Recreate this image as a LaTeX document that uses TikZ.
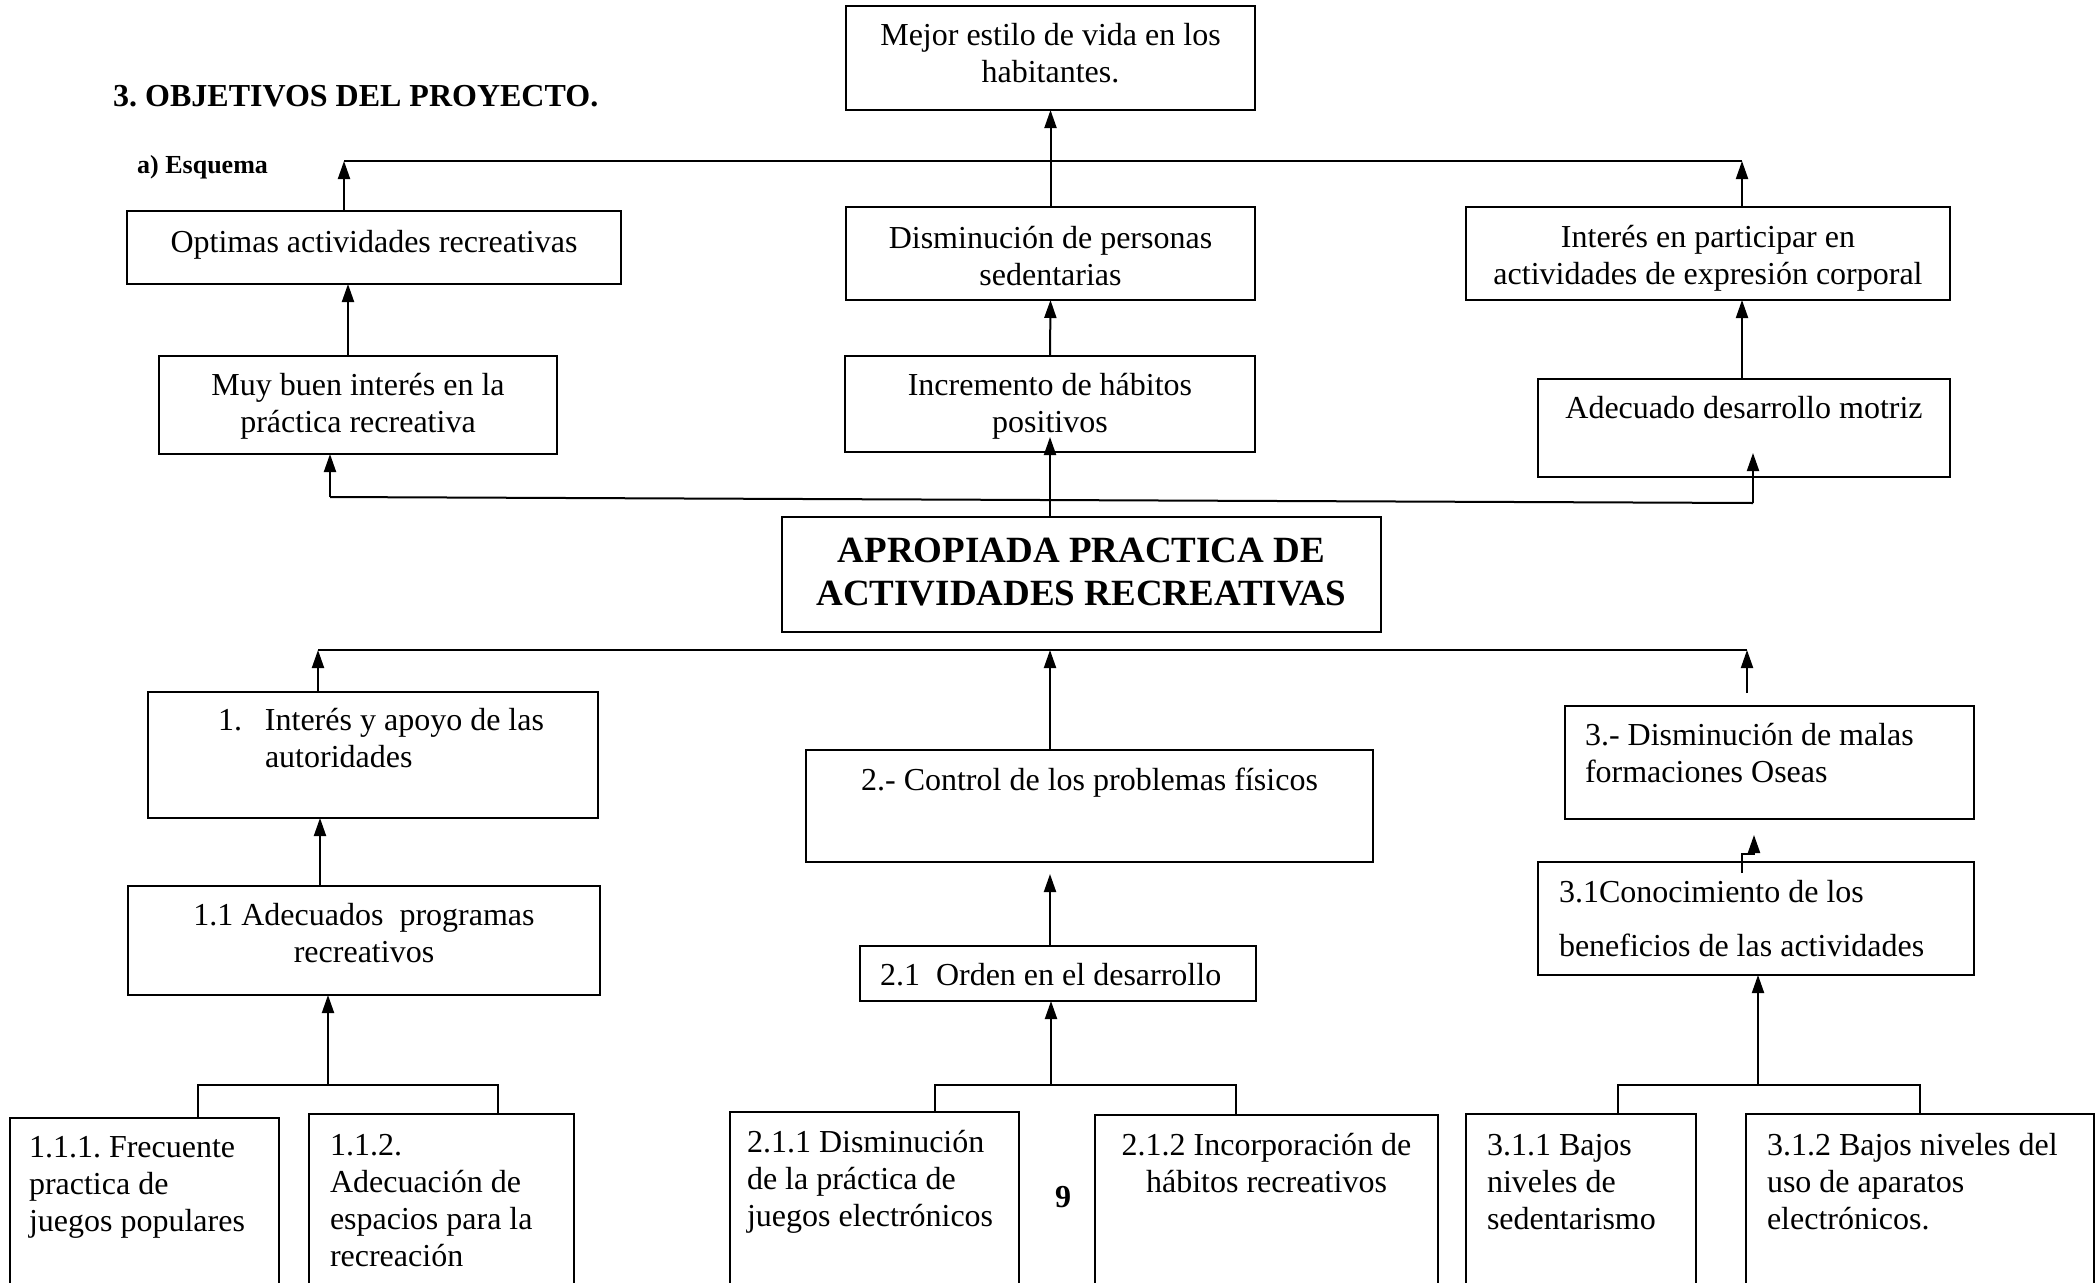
\documentclass[tikz,border=0pt]{standalone}
\usepackage{fontspec}
\setmainfont{Liberation Serif}
\usetikzlibrary{arrows.meta}
\newcommand{\cajafont}{\fontsize{32pt}{37pt}\selectfont}
\frenchspacing

\begin{document}
\begin{tikzpicture}[x=1pt,y=-1pt,
    box/.style={draw, line width=2.4pt, anchor=north west, inner ysep=0pt, inner xsep=10pt,
      outer sep=0pt, align=flush center, font=\cajafont},
    lbox/.style={box, align=flush left, inner xsep=#1},
    dims/.style n args={3}{text width=#1pt, text height=#2pt, text depth=#3pt},
    conn/.style={line width=2pt},
    arr/.style={conn, -{Triangle[length=18pt,width=12pt]}}]
  \useasboundingbox (0,0) rectangle (2098,1282);
  \clip (0,0) rectangle (2098,1282);

  \node[anchor=base west, inner sep=0pt, font=\bfseries\cajafont] (titulo) at (113,106)
    {3. OBJETIVOS DEL PROYECTO.};
  \node[anchor=base west, inner sep=0pt, font=\bfseries\fontsize{26pt}{30pt}\selectfont] (esquema)
    at (137,173) {a) Esquema};

  % fines
  \node[box, dims={389}{39}{65}] (mejor) at (846,6) {Mejor estilo de vida en los\\habitantes.};
  \node[box, dims={474}{41}{32}] (opt) at (127,211) {Optimas actividades recreativas};
  \node[box, dims={389}{41}{52}] (dism) at (846,207) {Disminución de personas\\sedentarias};
  \node[box, dims={464}{40}{53}] (intp) at (1466,207) {Interés en participar en\\actividades de expresión corporal};
  \node[box, dims={378}{39}{59}] (muy) at (159,356) {Muy buen interés en la\\práctica recreativa};
  \node[box, dims={390}{39}{57}] (inc) at (845,356) {Incremento de hábitos\\positivos};
  \node[box, dims={392}{39}{59}] (adec) at (1538,379) {Adecuado desarrollo motriz};

  % proposito
  \node[box, dims={579}{45}{70}, font=\bfseries\fontsize{37pt}{43pt}\selectfont] (aprop) at (782,517)
    {APROPIADA PRACTICA DE\\ACTIVIDADES RECREATIVAS};

  % componentes
  \node[lbox=10pt, dims={430}{38}{88}] (int1) at (148,692)
    {\hspace*{60pt}\makebox[47pt][l]{1.}Interés y apoyo de las\\\hspace*{107pt}autoridades};
  \node[box, dims={547}{40}{72}] (ctrl) at (806,750) {2.- Control de los problemas físicos};
  \node[lbox=20pt, dims={369}{39}{74}] (mal3) at (1565,706) {3.- Disminución de malas\\formaciones Oseas};

  % actividades
  \node[box, dims={452}{39}{70}] (prog) at (128,886) {1.1 Adecuados\ \ programas\\recreativos};
  \node[lbox=20pt, dims={356}{39}{16}] (ord) at (860,946) {2.1\ \ Orden en el desarrollo};
  \node[lbox=21pt, dims={394}{40}{73}] (c31) at (1538,862)
    {3.1Conocimiento de los\\[17pt]beneficios de las actividades};

  \node[lbox=19pt, dims={231}{39}{150}] (f111) at (10,1118) {1.1.1. Frecuente\\practica de\\juegos populares};
  \node[lbox=21pt, dims={223}{41}{150}] (f112) at (309,1114) {1.1.2.\\Adecuación de\\espacios para la\\recreación};
  \node[lbox=17pt, dims={255}{40}{150}] (f211) at (730,1112) {2.1.1 Disminución\\de la práctica de\\juegos electrónicos};
  \node[box, dims={323}{40}{150}] (f212) at (1095,1115) {2.1.2 Incorporación de\\hábitos recreativos};
  \node[lbox=21pt, dims={188}{41}{150}] (f311) at (1466,1114) {3.1.1 Bajos\\niveles de\\sedentarismo};
  \node[lbox=21pt, dims={306}{41}{150}] (f312) at (1746,1114) {3.1.2 Bajos niveles del\\uso de aparatos\\electrónicos.};

  \node[font=\bfseries\cajafont, inner sep=0pt] (pagina) at (1063,1197) {9};

  % arriba
  \coordinate (jTL) at (344,161);
  \coordinate (jTR) at (1742,161);
  \draw[conn] (jTL) -- (jTR);
  \draw[arr] (opt.north -| jTL) -- (jTL);
  \draw[arr] (intp.north -| jTR) -- (jTR);
  \draw[arr] (dism.north) -- (mejor.south);
  \draw[arr] ([xshift=-10pt]muy.north) -- ([xshift=-10pt]muy.north |- opt.south);
  \draw[arr] (inc.north) -- (dism.south);
  \draw[arr] (adec.north -| jTR) -- (intp.south -| jTR);

  \coordinate (jML) at (330,497);
  \coordinate (jMR) at (1753,503);
  \coordinate (incIn) at (1050,437);
  \coordinate (adecIn) at (1753,453);
  \draw[arr] (jML) -- (muy.south -| jML);
  \draw[conn] (jML) -- (jMR);
  \draw[arr] (jMR) -- (adecIn);
  \draw[arr] (aprop.north -| incIn) -- (incIn);

  % abajo
  \coordinate (jBL) at (318,650);
  \coordinate (jBC) at (1050,650);
  \coordinate (jBR) at (1747,650);
  \coordinate (mal3Base) at (1747,693);
  \draw[conn] (jBL) -- (jBR);
  \draw[arr] (int1.north -| jBL) -- (jBL);
  \draw[arr] (ctrl.north -| jBC) -- (jBC);
  \draw[arr] (mal3Base) -- (jBR);

  \coordinate (ctrlIn) at (1050,874);
  \coordinate (c31a) at (1742,873);
  \coordinate (mal3In) at (1754,835);
  \draw[arr] ([xshift=2pt]prog.north -| jBL) -- ([xshift=2pt]int1.south -| jBL);
  \draw[arr] (ord.north -| ctrlIn) -- (ctrlIn);
  \draw[arr] (c31a) -- ++(0,-19) -| (mal3In);

  % llaves
  \coordinate (b1L) at (198,1085);
  \coordinate (b1C) at (328,1085);
  \coordinate (b1R) at (498,1085);
  \draw[conn] (f111.north -| b1L) -- (b1L) -- (b1R) -- (f112.north -| b1R);
  \draw[arr] (b1C) -- (prog.south -| b1C);

  \coordinate (b2L) at (935,1085);
  \coordinate (b2C) at (1051,1085);
  \coordinate (b2R) at (1236,1085);
  \draw[conn] (f211.north -| b2L) -- (b2L) -- (b2R) -- (f212.north -| b2R);
  \draw[arr] (b2C) -- (ord.south -| b2C);

  \coordinate (b3L) at (1618,1085);
  \coordinate (b3C) at (1758,1085);
  \coordinate (b3R) at (1920,1085);
  \draw[conn] (f311.north -| b3L) -- (b3L) -- (b3R) -- (f312.north -| b3R);
  \draw[arr] (b3C) -- (c31.south -| b3C);
\end{tikzpicture}
\end{document}
